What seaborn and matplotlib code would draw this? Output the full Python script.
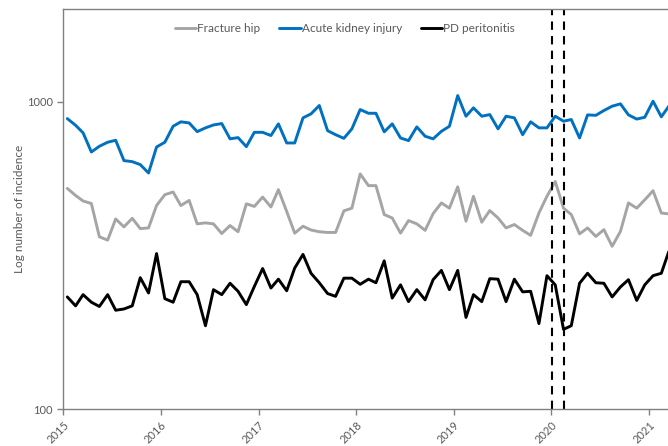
import numpy as np
import pandas as pd
import matplotlib
matplotlib.use("Agg")
import matplotlib.pyplot as plt
import matplotlib.dates as mdates
import matplotlib.ticker as mticker
import seaborn as sns

sns.set_style("white")
plt.rcParams['font.family'] = ['Lato', 'DejaVu Sans']

''' Monthly counts, Jan 2015 - Mar 2021 (read off the log-scale chart) '''
start_month = '2015-01-01'
n_months = 75

fracture_hip = [523, 496, 476, 467, 364, 355, 416, 392, 418, 387, 389, 460, 499,
                509, 460, 478, 401, 404, 401, 373, 396, 378, 466, 457,
                490, 455, 518, 440, 374, 394, 383, 378, 376, 376, 442, 451,
                583, 534, 534, 430, 419, 374, 411, 401, 382, 433, 469, 451,
                529, 409, 493, 406, 443, 419, 389, 399, 382, 368, 435, 493,
                551, 451, 430, 372, 389, 365, 384, 339, 379, 469, 451, 480, 514, 435, 432]

acute_kidney = [882, 839, 793, 687, 717, 739, 750, 644, 639, 625, 587, 713, 739,
                833, 861, 854, 800, 823, 841, 850, 758, 765, 715, 796,
                796, 777, 848, 735, 735, 887, 914, 973, 806, 782, 761, 817,
                944, 918, 918, 799, 848, 763, 748, 829, 773, 758, 802, 833,
                1048, 898, 956, 898, 909, 817, 898, 887, 782, 861, 823, 823,
                898, 865, 876, 763, 907, 904, 937, 968, 985, 907, 879, 891, 1005, 894, 968]

pd_peritonitis = [232, 217, 236, 223, 216, 236, 210, 212, 217, 268, 239, 321, 229,
                  223, 260, 260, 236, 187, 245, 236, 257, 242, 219, 251,
                  287, 248, 265, 243, 288, 319, 277, 258, 238, 233, 267, 267,
                  255, 265, 258, 304, 230, 254, 224, 245, 227, 264, 283, 245,
                  283, 199, 236, 224, 266, 265, 224, 265, 241, 242, 190, 272,
                  254, 182, 187, 257, 277, 258, 257, 232, 250, 264, 226, 254, 272, 277, 326]

series_names = ['Fracture hip', 'Acute kidney injury', 'PD peritonitis']
series_colors = ['#A5A5A5', '#0070C0', '#000000']
event_dates = ['2020-01-05', '2020-02-18']
y_ticks = [100, 1000]

# build long table for seaborn
months = pd.date_range(start_month, periods=n_months, freq='MS') + pd.Timedelta(days=15)
frames = []
for name, vals in zip(series_names, [fracture_hip, acute_kidney, pd_peritonitis]):
    frames.append(pd.DataFrame({'month': months, 'count': vals, 'series': name}))
df = pd.concat(frames, ignore_index=True)

fig = plt.figure(figsize=(6.68, 4.46), dpi=100)
ax = fig.add_axes([63.3 / 668, 1 - 409.3 / 446, (668 - 63.3) / 668, 400 / 446])

sns.lineplot(data=df, x='month', y='count', hue='series', hue_order=series_names,
             palette=series_colors, linewidth=2.1, ax=ax)

for d in event_dates:
    ax.axvline(pd.Timestamp(d), color='black', linestyle=(0, (4, 3)), linewidth=1.5)

ax.set_yscale('log')
ax.set_ylim(100, 2000)
ax.yaxis.set_major_locator(mticker.FixedLocator(y_ticks))
ax.yaxis.set_major_formatter(mticker.FixedFormatter([str(t) for t in y_ticks]))
ax.yaxis.set_minor_locator(mticker.NullLocator())

x0 = pd.Timestamp(start_month)
ax.set_xlim(x0, x0 + pd.Timedelta(days=604.7 / 97.6 * 365.25))
ax.xaxis.set_major_locator(mdates.YearLocator())
ax.xaxis.set_major_formatter(mdates.DateFormatter('%Y'))

ax.set_xlabel('')
ax.set_ylabel('Log number of incidence', fontsize=8.5, color='#595959', labelpad=1)
ax.tick_params(axis='both', which='major', direction='out', length=4, width=1,
               color='#808080', labelcolor='#595959', labelsize=8, bottom=True, left=True)
plt.setp(ax.get_xticklabels(), rotation=45, ha='right', rotation_mode='anchor')

for s in ['top', 'left', 'bottom']:
    ax.spines[s].set_color('#808080')
    ax.spines[s].set_linewidth(1)
ax.spines['right'].set_visible(False)

ax.legend(loc='upper center', bbox_to_anchor=(345 / 668, 0.972), bbox_transform=fig.transFigure,
          ncol=3, frameon=False, fontsize=8.5, handlelength=1.8, handletextpad=0.1,
          columnspacing=1.6, labelcolor='#595959')

plt.savefig('out.png', dpi=100)
plt.close()
